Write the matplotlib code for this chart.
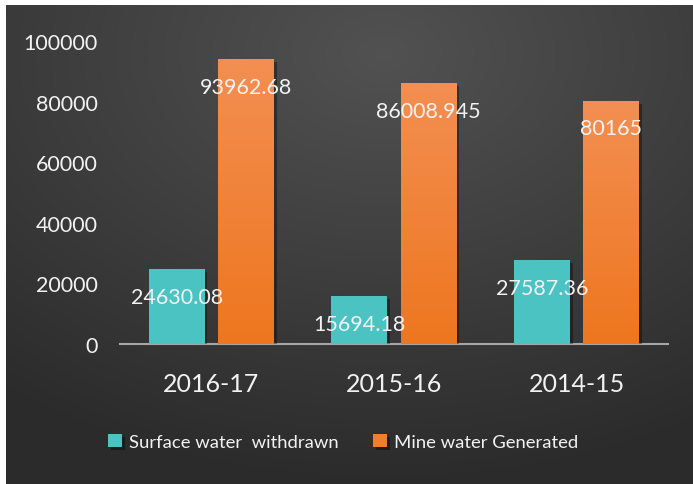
import numpy as np
import matplotlib
matplotlib.use("Agg")
import matplotlib.pyplot as plt
import matplotlib.patheffects as pe
from matplotlib.colors import LinearSegmentedColormap

categories = ["2016-17", "2015-16", "2014-15"]
surface_water = [24630.08, 15694.18, 27587.36]
mine_water = [93962.68, 86008.945, 80165]
surface_labels = ["24630.08", "15694.18", "27587.36"]
mine_labels = ["93962.68", "86008.945", "80165"]
yticks = [0, 20000, 40000, 60000, 80000, 100000]
series_names = ["Surface water  withdrawn", "Mine water Generated"]

plt.rcParams['font.family'] = ['Lato', 'DejaVu Sans']

W, H = 693, 485
fig = plt.figure(figsize=(W/100, H/100), dpi=100)
fig.patch.set_facecolor('white')

# background gradient panel
bg = fig.add_axes([6/W, 0, (W-6)/W, (H-6)/H])
bg.set_axis_off()
yy, xx = np.mgrid[0:1:300j, 0:1:400j]
d = np.sqrt(((xx-0.55)/0.9)**2 + ((yy-0.1)/0.9)**2)
g = np.clip(1 - d, 0, 1)
lo, hi = np.array([0.17, 0.17, 0.17]), np.array([0.32, 0.32, 0.32])
img = lo + (hi-lo)*g[..., None]
bg.imshow(img, aspect='auto', extent=[0, 1, 1, 0])
bg.set_zorder(0)

ax = fig.add_axes([120/W, (H-345)/H, 548/W, 303/H])
ax.set_zorder(1)
ax.patch.set_alpha(0)
x = np.arange(len(categories))
off = 0.19
w = 0.306
teal = '#4CC3C3'
orange = '#F07F2C'
b1 = ax.bar(x - off, surface_water, w, color=teal, label=series_names[0], zorder=3)
b2 = ax.bar(x + off, mine_water, w, color=orange, label=series_names[1], zorder=3)
for b in list(b1) + list(b2):
    b.set_path_effects([pe.withSimplePatchShadow(offset=(2, -2), shadow_rgbFace='black', alpha=0.35)])

# subtle vertical gradient on orange bars
ocmap = LinearSegmentedColormap.from_list('o', ['#EE761F', '#F38F52'])
grad = np.linspace(0, 1, 256).reshape(-1, 1)
for b in b2:
    x0, y0 = b.get_x(), b.get_y()
    im = ax.imshow(grad, cmap=ocmap, aspect='auto', origin='lower',
                   extent=[x0, x0 + b.get_width(), y0, y0 + b.get_height()], zorder=3.5)
    im.set_clip_path(b)

txtc = '#F2F2F2'
for xi, v, s in zip(x, surface_water, surface_labels):
    ax.text(xi - off, v - 9000, s, ha='center', va='center', color=txtc, fontsize=15.5, zorder=5)
for xi, v, s in zip(x, mine_water, mine_labels):
    ax.text(xi + off, v - 9000, s, ha='center', va='center', color=txtc, fontsize=15.5, zorder=5)

ax.set_xlim(-0.5, 2.5)
ax.set_ylim(0, 100000)
ax.set_yticks(yticks)
ax.set_yticklabels([str(t) for t in yticks], color=txtc, fontsize=15.5)
ax.set_xticks(x)
ax.set_xticklabels(categories, color=txtc, fontsize=18)
ax.tick_params(axis='y', length=0, pad=16)
ax.tick_params(axis='x', length=0, pad=20)
for s in ['top', 'right', 'left']:
    ax.spines[s].set_visible(False)
ax.spines['bottom'].set_color('#A6A6A6')
ax.spines['bottom'].set_linewidth(1.5)
ax.spines['bottom'].set_zorder(2)

leg = fig.legend(handles=[b1, b2], labels=series_names, loc='center',
                 bbox_to_anchor=(343/W, (H-443)/H), ncol=2, frameon=False,
                 fontsize=13.3, handlelength=0.75, handleheight=0.75,
                 handletextpad=0.35, columnspacing=1.9, labelcolor=txtc)

fig.savefig('out.png', dpi=100, facecolor=fig.get_facecolor())
